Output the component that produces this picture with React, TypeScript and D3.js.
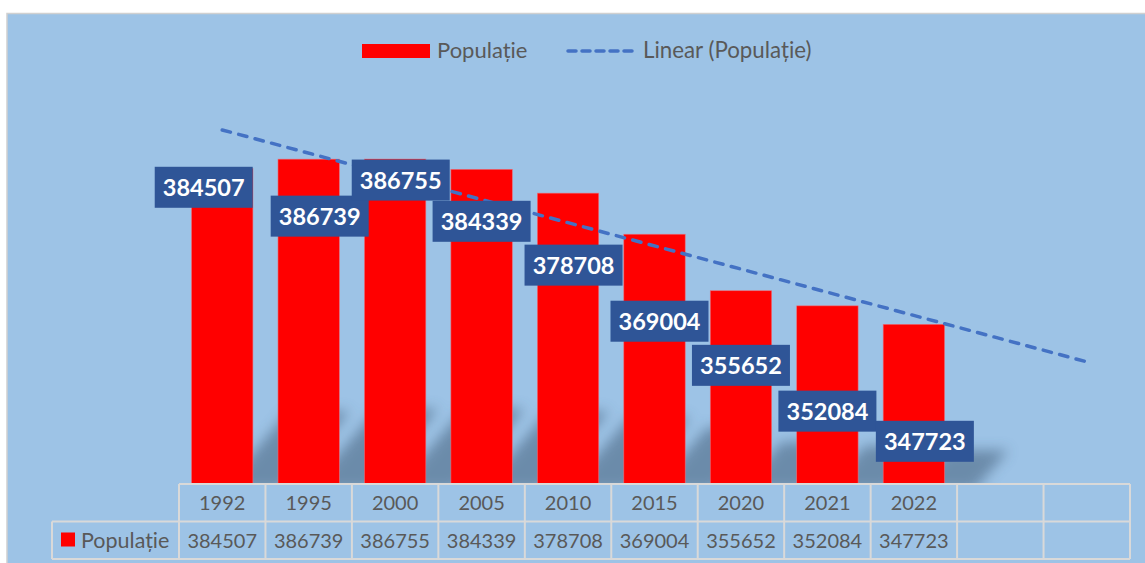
import React from "react";
import * as d3 from "d3";

const years = ["1992", "1995", "2000", "2005", "2010", "2015", "2020", "2021", "2022"];
const population = [384507, 386739, 386755, 384339, 378708, 369004, 355652, 352084, 347723];
const seriesName = "Populație";
const trendName = "Linear (Populație)";
const forecastPeriods = 2; // trendline runs forward into two empty columns
const yDomain = [310000, 400000];

// where the data labels were dragged to: [dx, dy] from bar centre / bar top
const labelNudge = [
  [-18.5, 18.7], [11, 57], [5.6, 21], [0, 52], [5.5, 72],
  [5, 87], [0, 74.6], [0, 105.3], [11, 117],
];

const W = 1145;
const H = 563;
const FONT = "Lato, 'Open Sans', sans-serif";
const TEXT = "#595959";
const GRID = "#D9D9D9";

const App = () => {
  const plot = { left: 179, right: 1130, top: 103, bottom: 484 };
  const rowH = 37.5;

  const slots = d3.range(years.length + forecastPeriods);
  const x = d3
    .scaleBand<number>()
    .domain(slots)
    .range([plot.left, plot.right])
    .paddingInner(0.29)
    .paddingOuter(0.145);
  const step = x.step();
  const cx = (i: number) => (x(i) as number) + x.bandwidth() / 2;

  const y = d3.scaleLinear().domain(yDomain).range([plot.bottom, plot.top]);

  // least squares trend, Excel style with x = 1..n
  const xs = population.map((_, i) => i + 1);
  const mx = d3.mean(xs) as number;
  const my = d3.mean(population) as number;
  const slope =
    d3.sum(xs, (v, i) => (v - mx) * (population[i] - my)) / d3.sum(xs, (v) => (v - mx) ** 2);
  const intercept = my - slope * mx;
  const trendLine = d3
    .line<number>()
    .x((i) => cx(i))
    .y((i) => y(intercept + slope * (i + 1)));

  // perspective shadow: skewed to the upper right, behind each bar
  const shadowPath = (i: number) => {
    const off = 30;
    const x0 = (x(i) as number) + off;
    const x1 = x0 + x.bandwidth();
    const h = plot.bottom - y(population[i]);
    const sh = 0.25 * h;
    const sk = 0.85 * sh;
    const b = plot.bottom + 6;
    return `M${x0},${b}L${x1},${b}L${x1 + sk},${b - sh}L${x0 + sk},${b - sh}Z`;
  };

  const boxW = 98;
  const boxH = 41;

  return (
    <svg
      width={W}
      height={H}
      style={{ position: "absolute", left: 0, top: 0, display: "block" }}
      fontFamily={FONT}
    >
      <defs>
        <filter id="soft" x="-50%" y="-50%" width="200%" height="200%">
          <feGaussianBlur stdDeviation="6.5" />
        </filter>
        <clipPath id="plotClip">
          <rect x={0} y={0} width={W} height={plot.bottom} />
        </clipPath>
      </defs>
      <rect x={0} y={0} width={W} height={H} fill="#fff" />
      <rect x={7} y={13.5} width={W + 20} height={H + 20} fill="#9DC3E6" stroke="#D0D0D0" strokeWidth={1.5} />

      {/* legend */}
      <g>
        <rect x={362} y={44} width={68} height={14} fill="#FF0000" />
        <text x={437} y={58} fontSize={22} fill={TEXT}>{seriesName}</text>
        <line
          x1={568} x2={636} y1={51} y2={51}
          stroke="#4472C4" strokeWidth={3.5} strokeDasharray="8 6" strokeLinecap="round"
        />
        <text x={643} y={58} fontSize={22.3} fill={TEXT}>{trendName}</text>
      </g>

      {/* shadows */}
      <g clipPath="url(#plotClip)">
        <g filter="url(#soft)" fill="#3a5570" opacity={0.5}>
          {population.map((_, i) => (
            <path key={i} d={shadowPath(i)} />
          ))}
        </g>
      </g>

      {/* bars */}
      {population.map((v, i) => (
        <rect
          key={years[i]}
          x={x(i)}
          y={y(v)}
          width={x.bandwidth()}
          height={plot.bottom - y(v)}
          fill="#FF0000"
          stroke="#E8707A"
          strokeWidth={0.6}
        />
      ))}

      {/* trendline */}
      <path
        d={trendLine([0, slots.length - 1]) as string}
        fill="none"
        stroke="#4472C4"
        strokeWidth={3.5}
        strokeDasharray="8.5 8.5"
        strokeLinecap="round"
      />

      {/* data labels */}
      {population.map((v, i) => {
        const lx = cx(i) + labelNudge[i][0];
        const ly = y(v) + labelNudge[i][1];
        return (
          <g key={"l" + i}>
            <rect x={lx - boxW / 2} y={ly - boxH / 2} width={boxW} height={boxH} fill="#2F5597" />
            <text x={lx} y={ly + 8.5} textAnchor="middle" fontSize={23.5} fontWeight={700} fill="#fff">
              {v}
            </text>
          </g>
        );
      })}

      {/* data table */}
      <g stroke={GRID} strokeWidth={2} fill="none">
        <line x1={plot.left} x2={plot.right} y1={plot.bottom} y2={plot.bottom} />
        <line x1={52} x2={plot.right} y1={plot.bottom + rowH} y2={plot.bottom + rowH} />
        <line x1={52} x2={plot.right} y1={plot.bottom + 2 * rowH} y2={plot.bottom + 2 * rowH} />
        <line x1={52} x2={52} y1={plot.bottom + rowH} y2={plot.bottom + 2 * rowH} />
        {d3.range(slots.length + 1).map((k) => (
          <line
            key={k}
            x1={plot.left + k * step}
            x2={plot.left + k * step}
            y1={plot.bottom}
            y2={plot.bottom + 2 * rowH}
          />
        ))}
      </g>
      {years.map((yr, i) => (
        <text key={"h" + yr} x={cx(i)} y={plot.bottom + 26} textAnchor="middle" fontSize={20} fill={TEXT}>
          {yr}
        </text>
      ))}
      {population.map((v, i) => (
        <text key={"d" + i} x={cx(i)} y={plot.bottom + rowH + 26.5} textAnchor="middle" fontSize={20} fill={TEXT}>
          {v}
        </text>
      ))}
      <rect x={61} y={532.5} width={14} height={14} fill="#FF0000" />
      <text x={81} y={plot.bottom + rowH + 26.5} fontSize={21.5} fill={TEXT}>{seriesName}</text>
    </svg>
  );
};

export default App;
